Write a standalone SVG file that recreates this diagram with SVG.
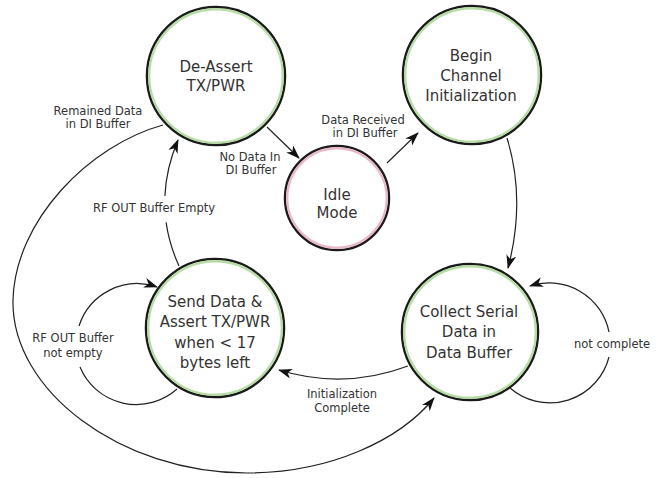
<svg xmlns="http://www.w3.org/2000/svg" width="669" height="478" viewBox="0 0 669 478">
<style>
.bg{fill:#ffffff}
.outer{fill:#ffffff;stroke:#1a1a1a;stroke-width:2.5}
.ring{fill:none;stroke:#b7dca6;stroke-width:2.4}
.ringp{fill:none;stroke:#e9b9c9;stroke-width:2.4}
.nt{font-family:"DejaVu Sans",Verdana,sans-serif;font-size:15px;fill:#333333;text-anchor:middle}
.et{font-family:"DejaVu Sans",Verdana,sans-serif;font-size:11.5px;fill:#333333;text-anchor:middle}
.edge{fill:none;stroke:#222222;stroke-width:1.2}
.arr{marker-end:url(#ah)}
</style>
<defs>
<marker id="ah" viewBox="0 0 14 10" refX="13" refY="5" markerWidth="14" markerHeight="10" markerUnits="userSpaceOnUse" orient="auto">
<path d="M0,0 L14,5 L0,10 L4,5 z" fill="#111111"/>
</marker>
</defs>
<rect class="bg" x="0" y="0" width="669" height="478"/>
<g id="connectors">
<path class="edge arr" d="M267,127 L299,158"/>
<path class="edge arr" d="M387,163 L418,133"/>
<path class="edge arr" d="M507,138 Q526,200 508,268"/>
<path class="edge arr" d="M609,332 A61 61 0 0 0 530,286"/>
<path class="edge" d="M609,357 A61 61 0 0 1 510,388"/>
<path class="edge arr" d="M408,366 Q344,390 279,370"/>
<path class="edge" d="M179,266 Q169.2,244.3 166.1,222.4"/>
<path class="edge arr" d="M164.9,195.9 Q166.1,168.2 178,140"/>
<path class="edge arr" d="M79,326 A61 61 0 0 1 157,287"/>
<path class="edge" d="M80,367 A61 61 0 0 0 177,389"/>
<path class="edge arr" d="M163,125 C90,145 15,220 13,300 C11,390 120,473 247,473 C330,473 400,440 434,398"/>
</g>
<g id="edge-labels">
<text class="et" x="98" y="115">Remained Data</text>
<text class="et" x="98" y="128">in DI Buffer</text>
<text class="et" x="154" y="212">RF OUT Buffer Empty</text>
<text class="et" x="250" y="161">No Data In</text>
<text class="et" x="251" y="174">DI Buffer</text>
<text class="et" x="363" y="124">Data Received</text>
<text class="et" x="365" y="137">in DI Buffer</text>
<text class="et" x="73" y="342">RF OUT Buffer</text>
<text class="et" x="73" y="357">not empty</text>
<text class="et" x="612" y="348">not complete</text>
<text class="et" x="342" y="398">Initialization</text>
<text class="et" x="342" y="412">Complete</text>
</g>
<g id="node-deassert">
<circle class="outer" cx="216" cy="76" r="69"/>
<circle class="ring" cx="216" cy="76" r="66.8"/>
<text class="nt" x="216" y="72">De-Assert</text>
<text class="nt" x="216" y="91">TX/PWR</text>
</g>
<g id="node-begin">
<circle class="outer" cx="472" cy="75" r="69"/>
<circle class="ring" cx="472" cy="75" r="66.8"/>
<text class="nt" x="471" y="61">Begin</text>
<text class="nt" x="471" y="81">Channel</text>
<text class="nt" x="471" y="101">Initialization</text>
</g>
<g id="node-idle">
<circle class="outer" cx="337" cy="198" r="52"/>
<circle class="ringp" cx="337" cy="198" r="49.8"/>
<text class="nt" x="337" y="200">Idle</text>
<text class="nt" x="337" y="218">Mode</text>
</g>
<g id="node-send">
<circle class="outer" cx="215" cy="328" r="69"/>
<circle class="ring" cx="215" cy="328" r="66.8"/>
<text class="nt" x="215" y="307">Send Data &amp;</text>
<text class="nt" x="215" y="327">Assert TX/PWR</text>
<text class="nt" x="215" y="348">when &lt; 17</text>
<text class="nt" x="215" y="368">bytes left</text>
</g>
<g id="node-collect">
<circle class="outer" cx="470" cy="332" r="68"/>
<circle class="ring" cx="470" cy="332" r="65.8"/>
<text class="nt" x="469" y="317">Collect Serial</text>
<text class="nt" x="469" y="337">Data in</text>
<text class="nt" x="469" y="358">Data Buffer</text>
</g>
</svg>
